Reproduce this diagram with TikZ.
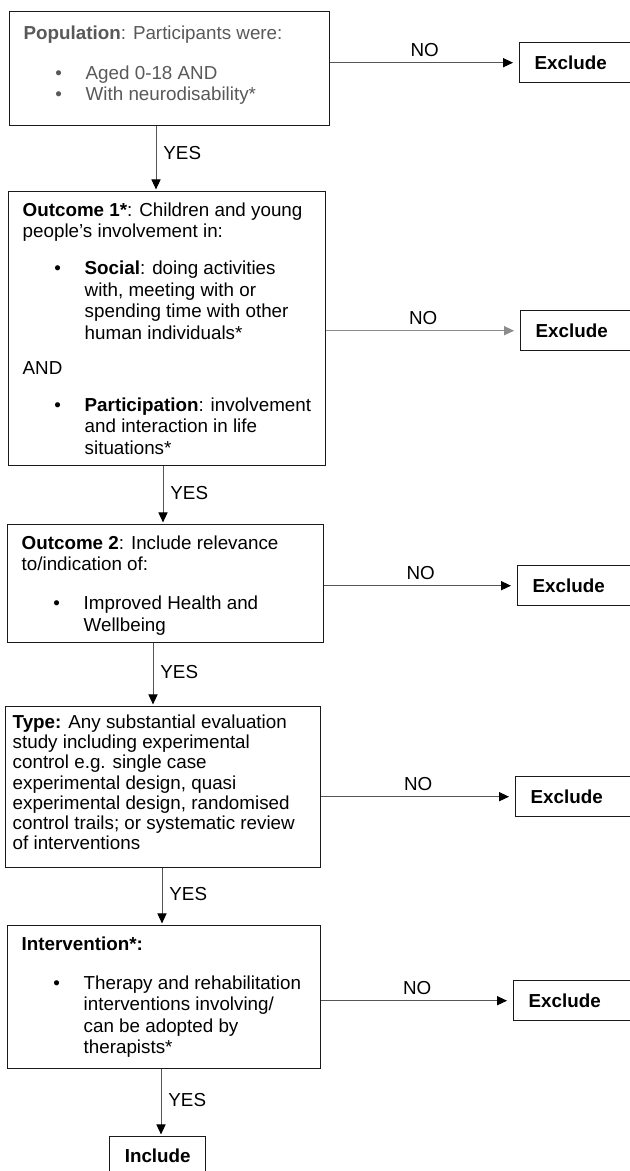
\documentclass[tikz,border=0pt]{standalone}
\usepackage{fontspec}
\setmainfont{Liberation Sans}
\usepackage{xcolor}
\usetikzlibrary{arrows.meta}
\definecolor{txtgray}{HTML}{595959}
\definecolor{linegray}{HTML}{555555}
\definecolor{lightarr}{HTML}{8C8C8C}
\definecolor{boxline}{HTML}{1A1A1A}
\newcommand{\flowfont}{\fontsize{9.4}{10.75}\selectfont}
\newcommand{\bitem}{\makebox[31pt][l]{\hspace{15.8pt}\textbullet}}
\newcommand{\bcont}{\hspace*{31pt}}
\tikzset{
   every node/.style={font=\flowfont},
   critbox/.style={draw=boxline, line width=0.7pt, anchor=north west,
      inner xsep=7pt, inner ysep=0pt},
   exclbox/.style={draw=boxline, line width=0.7pt, anchor=north west,
      font=\flowfont\bfseries, minimum height=20pt},
   flowarr/.style={draw=linegray, line width=0.45pt, shorten >=0.8pt,
      -{Triangle[length=5pt, width=4.6pt, color=black]}},
   yeslbl/.style={right, inner sep=3.5pt, pos=.46},
   nolbl/.style={above, inner sep=3pt, midway},
    }
\begin{document}
\begin{tikzpicture}[x=0.5pt, y=-0.5pt]
\fill[white] (0,0) rectangle (630,1171);
\useasboundingbox (0,0) rectangle (630,1171);

% criteria
\node[critbox, text=txtgray] (pop) at (9,11) {\parbox[t][57pt][t]{146pt}{\vspace*{6.2pt}\strut\textbf{Population}: Participants were:\\[9.25pt]
\bitem Aged 0-18 AND\\
\bitem With neurodisability*}};
\node[critbox] (out1) at (8,191) {\parbox[t][137pt][t]{144.5pt}{\vspace*{4.7pt}\strut\textbf{Outcome 1*}: Children and young\\
people's involvement in:\\[7.75pt]
\bitem\textbf{Social}: doing activities\\
\bcont with, meeting with or\\
\bcont spending time with other\\
\bcont human individuals*\\[6.75pt]
AND\\[7.75pt]
\bitem\textbf{Participation}: involvement\\
\bcont and interaction in life\\
\bcont situations*}};
\node[critbox] (out2) at (7,524) {\parbox[t][59pt][t]{144pt}{\vspace*{4.7pt}\strut\textbf{Outcome 2}: Include relevance\\
to/indication of:\\[8.75pt]
\bitem Improved Health and\\
\bcont Wellbeing}};
\node[critbox, inner xsep=3.5pt] (type) at (5,706) {\parbox[t][80.5pt][t]{150.5pt}{\vspace*{3.2pt}\strut\textbf{Type:} Any substantial evaluation\\[-0.6pt]
study including experimental\\[-0.6pt]
control e.g. single case\\[-0.6pt]
experimental design, quasi\\[-0.6pt]
experimental design, randomised\\[-0.6pt]
control trails; or systematic review\\[-0.6pt]
of interventions}};
\node[critbox] (interv) at (7,925) {\parbox[t][71.5pt][t]{142.5pt}{\vspace*{4.7pt}\strut\textbf{Intervention*:}\\[8.75pt]
\bitem Therapy and rehabilitation\\
\bcont interventions involving/\\
\bcont can be adopted by\\
\bcont therapists*}};
\node[exclbox, minimum width=48pt, minimum height=19pt] (incl) at (109,1136) {Include};

% exclusions
\node[exclbox, text width=50pt, inner xsep=7.5pt] (ex1) at (519,42) {Exclude};
\node[exclbox, text width=50pt, inner xsep=7.5pt] (ex2) at (520,310) {Exclude};
\node[exclbox, text width=50pt, inner xsep=7.5pt] (ex3) at (517,565) {Exclude};
\node[exclbox, text width=50pt, inner xsep=7.5pt] (ex4) at (515,776) {Exclude};
\node[exclbox, text width=50pt, inner xsep=7.5pt] (ex5) at (513,980) {Exclude};

% yes arrows
\coordinate (y1) at ([xshift=73.5pt]pop.south west);
\coordinate (y2) at ([xshift=77.5pt]out1.south west);
\coordinate (y3) at ([xshift=73pt]out2.south west);
\coordinate (y4) at ([xshift=78.5pt]type.south west);
\coordinate (y5) at ([xshift=77pt]interv.south west);
\draw[flowarr] (y1) -- (y1 |- out1.north) node[yeslbl, pos=.41]{YES};
\draw[flowarr] (y2) -- (y2 |- out2.north) node[yeslbl]{YES};
\draw[flowarr] (y3) -- (y3 |- type.north) node[yeslbl]{YES};
\draw[flowarr] (y4) -- (y4 |- interv.north) node[yeslbl]{YES};
\draw[flowarr] (y5) -- (y5 |- incl.north) node[yeslbl]{YES};

% no arrows
\draw[flowarr, shorten >=3pt] (pop.east |- ex1.west) -- (ex1.west) node[nolbl]{NO};
\draw[flowarr, shorten >=3pt, draw=lightarr, -{Triangle[length=5pt, width=4.6pt, color=lightarr]}] (out1.east |- ex2.west) -- (ex2.west) node[nolbl]{NO};
\draw[flowarr, shorten >=3pt] (out2.east |- ex3.west) -- (ex3.west) node[nolbl]{NO};
\draw[flowarr, shorten >=3pt] (type.east |- ex4.west) -- (ex4.west) node[nolbl]{NO};
\draw[flowarr, shorten >=3pt] (interv.east |- ex5.west) -- (ex5.west) node[nolbl]{NO};
\end{tikzpicture}
\end{document}
